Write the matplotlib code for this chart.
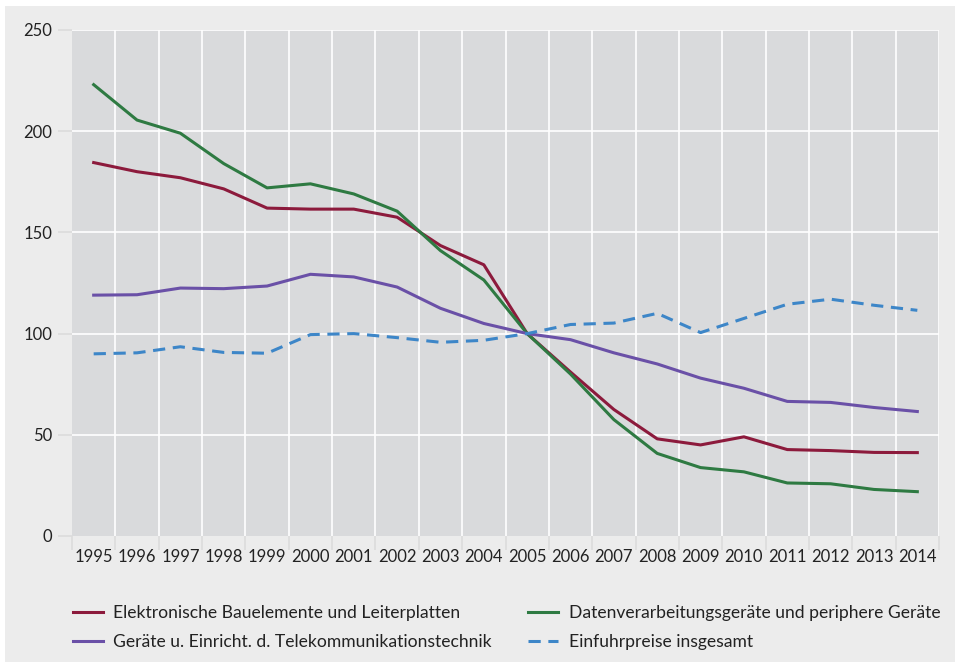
import matplotlib.pyplot as plt
import matplotlib.patches as mpatches
import matplotlib as mpl

mpl.rcParams['font.family'] = ['Lato', 'DejaVu Sans']

# Daten (Index 2005 = 100)
years = list(range(1995, 2015))
elektronik = [184.5, 180, 177, 171.5, 162, 161.5, 161.5, 157.5, 143.5, 134,
              100, 81, 62.5, 48, 45, 49, 42.7, 42.2, 41.3, 41.2]
daten = [223, 205.5, 199, 184, 172, 174, 169, 160.5, 141, 126.5,
         100, 80, 57.5, 40.8, 33.8, 31.7, 26.2, 25.8, 23, 21.9]
telekom = [119, 119.2, 122.5, 122.2, 123.5, 129.3, 128, 123, 112.5, 105,
           100, 97, 90.5, 85, 78, 73, 66.5, 66, 63.5, 61.5]
einfuhr = [90, 90.5, 93.5, 90.7, 90.3, 99.5, 100, 98, 95.7, 96.7,
           100, 104.5, 105.2, 110, 100.5, 107.5, 114.5, 117, 114, 111.5]
labels = ['Elektronische Bauelemente und Leiterplatten',
          'Datenverarbeitungsgeräte und periphere Geräte',
          'Geräte u. Einricht. d. Telekommunikationstechnik',
          'Einfuhrpreise insgesamt']

fig = plt.figure(figsize=(9.55, 6.62), dpi=100)
fig.patch.set_facecolor('white')
# grauer Hintergrund
fig.patches.append(mpatches.Rectangle((5/955, 0), 1, 1 - 6/662,
                                      transform=fig.transFigure,
                                      facecolor='#ececec', edgecolor='none', zorder=-10))

ax = fig.add_axes([72/955, 1 - 536/662, (939-72)/955, (536-30)/662])
ax.set_facecolor('#d9dadc')

ax.plot(years, elektronik, color='#8c1a3c', lw=2.2, label=labels[0], zorder=3)
ax.plot(years, daten, color='#2e7a42', lw=2.2, label=labels[1], zorder=3)
ax.plot(years, telekom, color='#6a50a7', lw=2.2, label=labels[2], zorder=3)
ax.plot(years, einfuhr, color='#3d86c8', lw=2.2, ls=(0, (4, 2.5)), label=labels[3], zorder=3)

ax.set_xlim(1994.5, 2014.5)
ax.set_ylim(0, 250)
ax.set_yticks(range(0, 251, 50))
ax.set_xticks(years)
ax.set_xticks([y + 0.5 for y in range(1994, 2015)], minor=True)

for v in range(50, 251, 50):
    ax.axhline(v, color='white', lw=1.2, zorder=1)
for x in range(1995, 2015):
    ax.axvline(x + 0.5, color='white', lw=1.2, zorder=1)

for s in ax.spines.values():
    s.set_visible(False)

ax.tick_params(axis='x', which='major', length=0, labelsize=12, pad=9)
ax.tick_params(axis='x', which='minor', length=10, width=1.2, color='#dcdcdc')
ax.tick_params(axis='y', length=10, width=1.2, color='#dcdcdc', labelsize=12, pad=4)
ax.tick_params(axis='both', labelcolor='#222222')

handles, labs = ax.get_legend_handles_labels()
order = [0, 2, 1, 3]
leg = fig.legend([handles[i] for i in order], [labs[i] for i in order],
                 loc='upper left', bbox_to_anchor=(64/955, 1 - 596/662),
                 ncol=2, frameon=False, fontsize=12.6, handlelength=1.7,
                 handletextpad=0.6, columnspacing=2.1, labelspacing=0.75,
                 borderpad=0, labelcolor='#222222')

fig.savefig('out.png', dpi=100, facecolor=fig.get_facecolor())
